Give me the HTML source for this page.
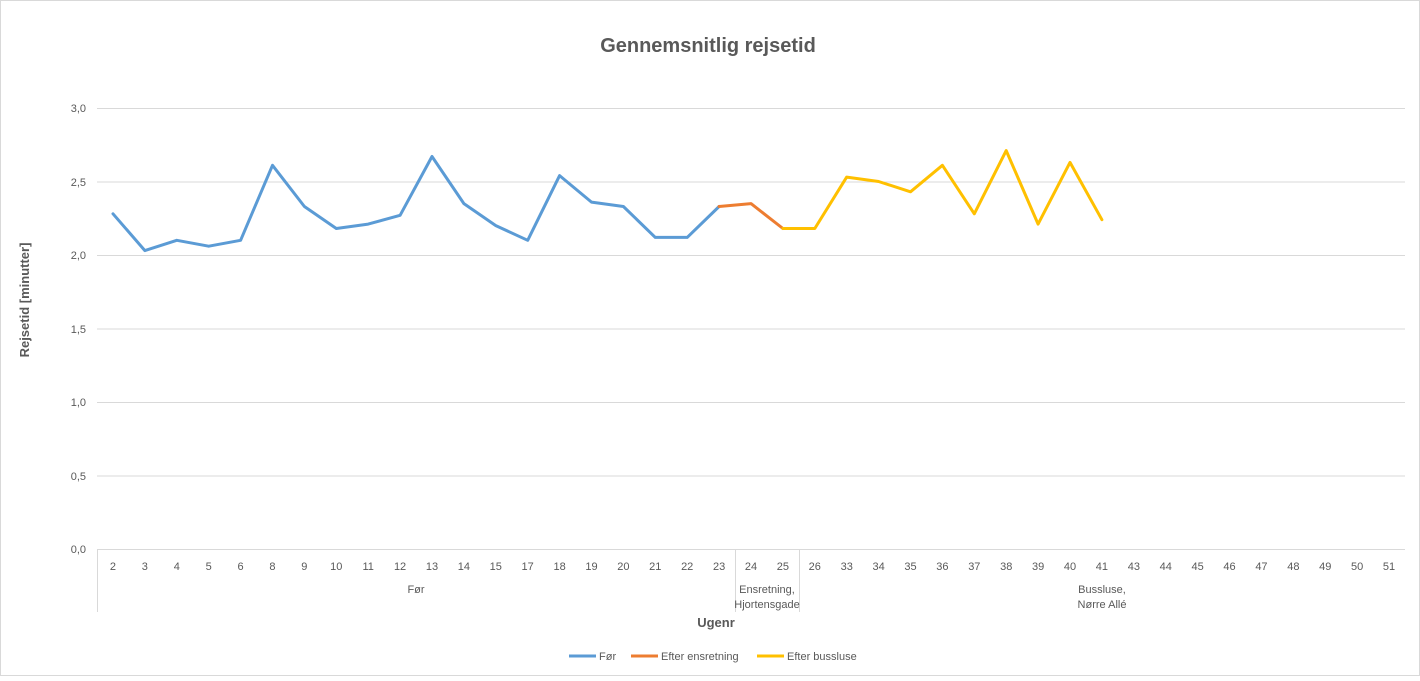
<!DOCTYPE html>
<html><head><meta charset="utf-8"><style>
body{margin:0;background:#fff}
svg text{font-family:"Liberation Sans",sans-serif}
</style></head><body>
<svg width="1420" height="676" xmlns="http://www.w3.org/2000/svg">
<rect x="0.5" y="0.5" width="1419" height="675" fill="#fff" stroke="#d9d9d9"/>
<text x="708" y="52" text-anchor="middle" font-size="20" font-weight="bold" fill="#595959">Gennemsnitlig rejsetid</text>
<g stroke="#d9d9d9" stroke-width="1">
<line x1="97" x2="1405" y1="108.5" y2="108.5"/>
<line x1="97" x2="1405" y1="182" y2="182"/>
<line x1="97" x2="1405" y1="255.5" y2="255.5"/>
<line x1="97" x2="1405" y1="329" y2="329"/>
<line x1="97" x2="1405" y1="402.5" y2="402.5"/>
<line x1="97" x2="1405" y1="476" y2="476"/>
<line x1="97" x2="1405" y1="549.5" y2="549.5"/>
<line x1="97.5" x2="97.5" y1="549" y2="612"/>
<line x1="735.5" x2="735.5" y1="549" y2="612"/>
<line x1="799.5" x2="799.5" y1="549" y2="612"/>
</g>
<g font-size="11" fill="#595959" text-anchor="end">
<text x="86" y="112">3,0</text><text x="86" y="186">2,5</text><text x="86" y="259">2,0</text>
<text x="86" y="333">1,5</text><text x="86" y="406">1,0</text><text x="86" y="480">0,5</text><text x="86" y="553">0,0</text>
</g>
<g font-size="11" fill="#595959" text-anchor="middle" id="xl"></g>
<g font-size="11" fill="#595959" text-anchor="middle">
<text x="416" y="593">Før</text>
<text x="767" y="593">Ensretning,</text><text x="767" y="608">Hjortensgade</text>
<text x="1102" y="593">Bussluse,</text><text x="1102" y="608">Nørre Allé</text>
</g>
<text x="716" y="627" text-anchor="middle" font-size="13" font-weight="bold" fill="#595959">Ugenr</text>
<text transform="translate(29,300) rotate(-90)" text-anchor="middle" font-size="13" font-weight="bold" fill="#595959">Rejsetid [minutter]</text>
<g id="lines" fill="none" stroke-width="3" stroke-linejoin="round" stroke-linecap="round"></g>
<g font-size="11" fill="#595959">
<line x1="569" x2="596" y1="656" y2="656" stroke="#5B9BD5" stroke-width="3"/><text x="599" y="660">Før</text>
<line x1="631" x2="658" y1="656" y2="656" stroke="#ED7D31" stroke-width="3"/><text x="661" y="660">Efter ensretning</text>
<line x1="757" x2="784" y1="656" y2="656" stroke="#FFC000" stroke-width="3"/><text x="787" y="660">Efter bussluse</text>
</g>
</svg>
<script>
var labs=[2,3,4,5,6,8,9,10,11,12,13,14,15,17,18,19,20,21,22,23,24,25,26,33,34,35,36,37,38,39,40,41,43,44,45,46,47,48,49,50,51];
var vals=[2.28,2.03,2.10,2.06,2.10,2.61,2.33,2.18,2.21,2.27,2.67,2.35,2.20,2.10,2.54,2.36,2.33,2.12,2.12,2.33,2.35,2.18,2.18,2.53,2.50,2.43,2.61,2.28,2.71,2.21,2.63,2.24];
var w=1308/41,ns="http://www.w3.org/2000/svg";
var xl=document.getElementById('xl');
labs.forEach(function(l,i){var t=document.createElementNS(ns,'text');t.setAttribute('x',97+w*(i+.5));t.setAttribute('y',570);t.textContent=l;xl.appendChild(t);});
function pts(a,b){var s=[];for(var i=a;i<=b;i++)s.push((97+w*(i+.5)).toFixed(1)+','+(549-vals[i]*147).toFixed(1));return s.join(' ');}
var g=document.getElementById('lines');
[[0,19,'#5B9BD5'],[19,21,'#ED7D31'],[21,31,'#FFC000']].forEach(function(s){var p=document.createElementNS(ns,'polyline');p.setAttribute('points',pts(s[0],s[1]));p.setAttribute('stroke',s[2]);g.appendChild(p);});
</script>
</body></html>
